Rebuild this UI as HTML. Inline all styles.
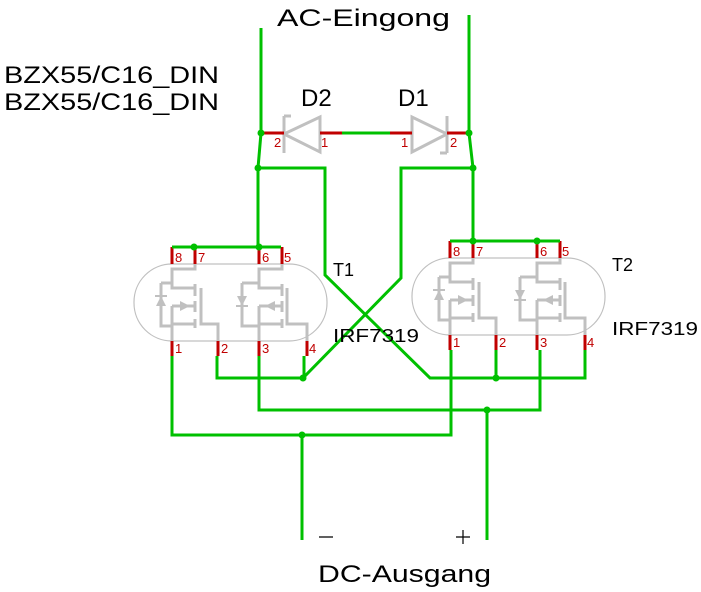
<!DOCTYPE html>
<html><head><style>body{margin:0;background:#fff}svg{display:block}</style></head><body>
<svg width="701" height="592" viewBox="0 0 701 592" xmlns="http://www.w3.org/2000/svg" font-family="Liberation Sans, sans-serif">
<defs>
<g id="pkg" fill="none" stroke="#c0c0c0" stroke-width="3">
 <rect x="412" y="258" width="193" height="77" rx="38" stroke-width="1.2"/>
 <path d="M473 258V263H450V282H473M450 300H473M450 300V335M439 277H450M439 277V320H450M450 318H473M479 282V318H496V335"/>
 <path d="M473 278V290M473 295V306M473 313V322"/>
 <polygon points="458,295 468,300 458,305" fill="#c0c0c0" stroke="none"/>
 <polygon points="434,300 444,300 439,290" fill="#c0c0c0" stroke="none"/>
 <path d="M433 290H445" stroke-width="2"/>
 <path d="M560 258V263H537V282H560M537 300H560M537 300V335M520 277H537M520 277V320H537M537 318H560M565 282V318H585V335"/>
 <path d="M560 278V290M560 295V306M560 313V322"/>
 <polygon points="553,295 543,300 553,305" fill="#c0c0c0" stroke="none"/>
 <polygon points="515,290 525,290 520,300" fill="#c0c0c0" stroke="none"/>
 <path d="M514 300H526" stroke-width="2"/>
 <g stroke="#c00000" stroke-width="3">
  <path d="M450 241V258M473 241V258M537 241V258M560 241V258M450 335V350M496 335V350M537 335V350M585 335V350"/>
 </g>
 <g fill="#c00000" stroke="none" font-size="13">
  <text x="453" y="256">8</text><text x="476" y="256">7</text><text x="540" y="256">6</text><text x="562" y="256">5</text>
  <text x="453" y="347">1</text><text x="499" y="347">2</text><text x="540" y="347">3</text><text x="587" y="347">4</text>
 </g>
</g>
</defs>
<use href="#pkg"/>
<use href="#pkg" transform="translate(-278,6)"/>
<g stroke="#c0c0c0" stroke-width="3" fill="none">
 <path d="M284 116V153M284 134L320 117V152Z"/>
 <path d="M412 117V152L447 134ZM447 116V153M447 153H440"/>
 <path d="M284 116H291"/>
</g>
<g stroke="#c00000" stroke-width="3"><path d="M261 133H284M320 133H342M390 133H412M447 133H469"/></g>
<g fill="#c00000" font-size="13"><text x="274" y="147">2</text><text x="321" y="147">1</text><text x="401" y="147">1</text><text x="450" y="147">2</text></g>
<g stroke="#00c000" stroke-width="3" fill="none">
 <path d="M261 28V133L258 168V247M469 15V133L473 168V241"/>
 <path d="M342 133H390"/>
 <path d="M258 168H325V275L430 378H585V350M496 350V378"/>
 <path d="M473 168H401V278L303 378H217V356M304 356V378"/>
 <path d="M172 247H281M450 241H560"/>
 <path d="M259 356V410H540V350M487 410V540"/>
 <path d="M172 356V435H451V350M302 435V540"/>
</g>
<g fill="#00c000">
 <circle cx="261" cy="133" r="3.5"/><circle cx="469" cy="133" r="3.5"/><circle cx="258" cy="168" r="3.5"/><circle cx="473" cy="168" r="3.5"/>
 <circle cx="194" cy="247" r="3.5"/><circle cx="259" cy="247" r="3.5"/><circle cx="473" cy="241" r="3.5"/><circle cx="537" cy="241" r="3.5"/>
 <circle cx="303" cy="378" r="3.5"/><circle cx="496" cy="378" r="3.5"/><circle cx="487" cy="410" r="3.5"/><circle cx="302" cy="435" r="3.5"/>
</g>
<g fill="#000">
 <text x="277" y="26" font-size="24" textLength="173" lengthAdjust="spacingAndGlyphs">AC-Eingong</text>
 <text x="4" y="83" font-size="24" textLength="215" lengthAdjust="spacingAndGlyphs">BZX55/C16_DIN</text>
 <text x="4" y="110" font-size="24" textLength="215" lengthAdjust="spacingAndGlyphs">BZX55/C16_DIN</text>
 <text x="301" y="106" font-size="24">D2</text>
 <text x="398" y="106" font-size="24">D1</text>
 <text x="333" y="276" font-size="18">T1</text>
 <text x="333" y="342" font-size="18" textLength="86" lengthAdjust="spacingAndGlyphs">IRF7319</text>
 <text x="612" y="271" font-size="18">T2</text>
 <text x="612" y="335" font-size="18" textLength="86" lengthAdjust="spacingAndGlyphs">IRF7319</text>
 <path d="M319 537H333M456 537H470M463 530V544" stroke="#000" stroke-width="1.2"/>
 <text x="318" y="582" font-size="24" textLength="173" lengthAdjust="spacingAndGlyphs">DC-Ausgang</text>
</g>
</svg>
</body></html>
